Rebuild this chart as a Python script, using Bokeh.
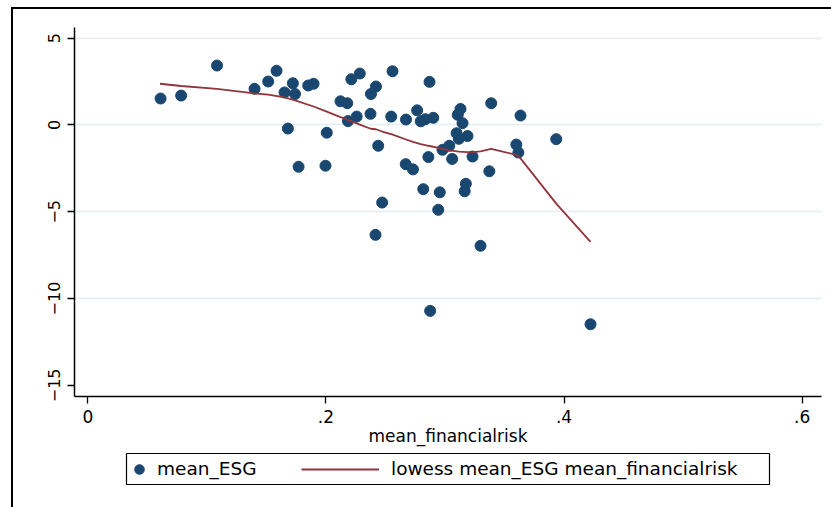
from bokeh.plotting import figure
from bokeh.layouts import column
from bokeh.models import (Range1d, FixedTicker, CustomJSTickFormatter, Legend,
                          LegendItem, ColumnDataSource, BoxAnnotation)
from bokeh.embed import file_html
from bokeh.resources import INLINE

# ---- data ----
mean_financialrisk = [
    0.0611, 0.0784, 0.1085, 0.1400, 0.1515, 0.1585, 0.1722, 0.1652, 0.1740, 0.1680,
    0.1770, 0.1851, 0.1896, 0.2007, 0.1996, 0.2122, 0.2179, 0.2185, 0.2258, 0.2213,
    0.2284, 0.2378, 0.2420, 0.2374, 0.2559, 0.2548, 0.2439, 0.2472, 0.2416, 0.2672,
    0.2670, 0.2731, 0.2766, 0.2796, 0.2836, 0.2901, 0.2870, 0.2817, 0.2956, 0.2943,
    0.2860, 0.2979, 0.3036, 0.3060, 0.3097, 0.3116, 0.3189, 0.3107, 0.3130, 0.3147,
    0.3231, 0.3175, 0.3165, 0.3298, 0.3372, 0.3388, 0.3599, 0.3616, 0.3634, 0.3934,
    0.2875, 0.4222,
]
mean_ESG = [
    1.52, 1.69, 3.42, 2.08, 2.50, 3.12, 2.40, 1.87, 1.78, -0.21,
    -2.41, 2.27, 2.37, -0.45, -2.35, 1.36, 1.25, 0.22, 0.48, 2.63,
    2.96, 1.78, 2.21, 0.64, 3.09, 0.48, -1.20, -4.47, -6.33, 0.31,
    -2.26, -2.56, 0.84, 0.21, 0.33, 0.41, 2.48, -3.70, -3.88, -4.89,
    -1.85, -1.43, -1.20, -1.96, -0.48, -0.80, -0.64, 0.58, 0.92, 0.10,
    -1.82, -3.39, -3.82, -6.96, -2.67, 1.25, -1.13, -1.59, 0.54, -0.82,
    -10.71, -11.48,
]
lowess_x = [
    0.0606, 0.0784, 0.1085, 0.1400, 0.1515, 0.1652, 0.1740, 0.1896, 0.2007, 0.2122,
    0.2185, 0.2284, 0.2376, 0.2420, 0.2472, 0.2555, 0.2672, 0.2731, 0.2796, 0.2861,
    0.2956, 0.3037, 0.3116, 0.3189, 0.3231, 0.3298, 0.3388, 0.3600, 0.3634, 0.3934,
    0.4222,
]
lowess_y = [
    2.37, 2.24, 2.07, 1.82, 1.75, 1.58, 1.41, 1.06, 0.77, 0.45,
    0.29, 0.02, -0.22, -0.25, -0.38, -0.55, -0.84, -0.98, -1.10, -1.20,
    -1.33, -1.46, -1.54, -1.57, -1.57, -1.52, -1.38, -1.73, -1.93, -4.53,
    -6.73,
]
x_ticks = [0, 0.2, 0.4, 0.6]
y_ticks = [-15, -10, -5, 0, 5]
y_grid_ticks = [-10, -5, 0, 5]
x_title = "mean_financialrisk"
legend_labels = ["mean_ESG", "lowess mean_ESG mean_financialrisk"]

NAVY = "#1a476f"
MAROON = "#90353b"
FONT = "DejaVu Sans"

src = ColumnDataSource(dict(x=mean_financialrisk, y=mean_ESG))
lsrc = ColumnDataSource(dict(x=lowess_x, y=lowess_y))

# ---------------- main plot ----------------
p = figure(width=818, height=443, output_backend="svg", toolbar_location=None,
           x_range=Range1d(-0.0112, 0.6162), y_range=Range1d(-15.64, 5.61),
           min_border_left=61, min_border_right=10, min_border_top=18,
           min_border_bottom=56)
p.outline_line_color = None
p.background_fill_color = "white"
p.border_fill_color = "white"

pts = p.scatter("x", "y", source=src, size=11, fill_color=NAVY, line_color=NAVY)
ln = p.line("x", "y", source=lsrc, line_color=MAROON, line_width=1.8)

for ax in (p.xaxis[0], p.yaxis[0]):
    ax.axis_line_color = "black"
    ax.axis_line_width = 1.5
    ax.major_tick_line_color = "black"
    ax.major_tick_line_width = 1.3
    ax.major_tick_out = 7
    ax.major_tick_in = 0
    ax.minor_tick_out = 0
    ax.minor_tick_in = 0
    ax.major_label_text_font = FONT
    ax.major_label_text_color = "black"

p.xaxis.ticker = FixedTicker(ticks=x_ticks)
p.xaxis.formatter = CustomJSTickFormatter(
    code="return tick == 0 ? '0' : tick.toFixed(1).replace(/^0/, '');")
p.xaxis.major_label_text_font_size = "17px"
p.xaxis.major_label_standoff = 6
p.xaxis.axis_label = x_title
p.xaxis.axis_label_text_font = FONT
p.xaxis.axis_label_text_font_size = "17px"
p.xaxis.axis_label_text_font_style = "normal"
p.xaxis.axis_label_text_color = "black"
p.xaxis.axis_label_standoff = 0

p.yaxis.ticker = FixedTicker(ticks=y_ticks)
p.yaxis.major_label_orientation = "vertical"
p.yaxis.major_label_text_font_size = "16px"
p.yaxis.major_label_standoff = 7

p.xgrid.visible = False
p.ygrid.ticker = FixedTicker(ticks=y_grid_ticks)
p.ygrid.grid_line_color = "#e4edf1"
p.ygrid.grid_line_width = 1.6

# ---------------- legend strip ----------------
# ranges in page pixels (x from the plot's left edge, y downward)
lg = figure(width=818, height=55, output_backend="svg", toolbar_location=None,
            x_range=Range1d(74, 821), y_range=Range1d(507, 452),
            x_axis_type=None, y_axis_type=None,
            min_border_left=61, min_border_right=10, min_border_top=0,
            min_border_bottom=0)
lg.grid.visible = False
lg.outline_line_color = None
lg.background_fill_color = "white"
lg.border_fill_color = "white"
# same data and styles as the main plot; they fall outside this strip's ranges,
# so only the legend glyphs are seen
lpts = lg.scatter("x", "y", source=src, size=11, fill_color=NAVY, line_color=NAVY)
lln = lg.line("x", "y", source=lsrc, line_color=MAROON, line_width=1.8)

lg.add_layout(BoxAnnotation(left=126, right=769, top=453, bottom=484,
                            fill_alpha=0, line_color="black", line_alpha=1.0,
                            line_width=1.2))

common = dict(border_line_color=None, background_fill_alpha=0,
              label_text_font=FONT, label_text_font_size="18.5px",
              label_text_color="black", padding=0, glyph_height=24,
              orientation="horizontal", margin=0)
leg1 = Legend(items=[LegendItem(label=legend_labels[0], renderers=[lpts])],
              location=(53, 26.5), glyph_width=24, label_standoff=6, **common)
leg2 = Legend(items=[LegendItem(label=legend_labels[1], renderers=[lln])],
              location=(227, 26.5), glyph_width=78, label_standoff=12, **common)
lg.add_layout(leg1)
lg.add_layout(leg2)

layout = column(p, lg, spacing=0,
                styles={"margin-left": "11px", "margin-top": "7px",
                        "border-left": "2px solid black",
                        "border-top": "2px solid black"})

open("out.html", "w").write(file_html(layout, INLINE))
